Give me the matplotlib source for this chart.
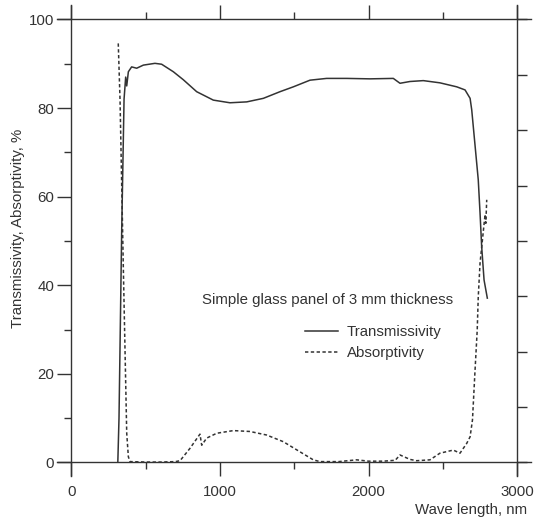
import matplotlib
matplotlib.use("Agg")
import matplotlib.pyplot as plt
from matplotlib.lines import Line2D
import numpy as np

plt.rcParams['font.family'] = ['Liberation Sans', 'DejaVu Sans']

# transmissivity of the glass panel, % (wave length in nm)
trans_wl = [312, 320, 338, 354, 365, 372, 383, 395, 405, 439, 484, 562, 607,
            686, 753, 843, 955, 1067, 1180, 1292, 1404, 1494, 1606, 1718, 1853,
            2010, 2167, 2212, 2279, 2369, 2481, 2594, 2650, 2684, 2695, 2739,
            2751, 2762, 2778, 2800]
trans_val = [0, 10, 52, 82, 87, 85, 88.2, 88.8, 89.3, 89.0, 89.7, 90.1, 89.9,
             88.2, 86.4, 83.7, 81.8, 81.2, 81.4, 82.2, 83.7, 84.8, 86.3, 86.7, 86.7,
             86.6, 86.7, 85.6, 86.0, 86.2, 85.7, 84.8, 84.1, 82.2, 79.6, 63.8,
             56.3, 48.7, 41.2, 37.1]

# absorptivity of the glass panel, %
abs_wl = [315, 327, 349, 372, 383, 394, 500, 600, 700, 731, 798, 865, 877, 910,
          978, 1090, 1202, 1314, 1426, 1539, 1628, 1673, 1800, 1920, 2000, 2100,
          2180, 2212, 2279, 2324, 2414, 2481, 2571, 2616, 2661, 2684, 2700, 2716,
          2732, 2739, 2751, 2774, 2785, 2790, 2796]
abs_val = [94.6, 81.8, 44.2, 6.6, 1.3, 0.2, 0.1, 0.1, 0.2, 0.4, 3.2, 6.4, 3.9, 5.5,
           6.6, 7.2, 7.0, 6.2, 4.7, 2.4, 0.6, 0.2, 0.2, 0.6, 0.3, 0.3,
           0.5, 1.7, 0.7, 0.4, 0.6, 2.1, 2.8, 2.1, 4.3, 5.8, 9.6, 20,
           29.9, 37.4, 45.0, 52.5, 56, 54, 59.3]

x_ticks = [0, 1000, 2000, 3000]
y_ticks = [0, 20, 40, 60, 80, 100]

ink = '#333333'

fig = plt.figure(figsize=(5.35, 5.21), dpi=100)
ax = fig.add_axes([0.1336, 0.1123, 0.8328, 0.8503])

ax.plot(trans_wl, trans_val, color=ink, lw=1.1, solid_joinstyle='round')
ax.plot(abs_wl, abs_val, color=ink, lw=1.1, dashes=(2.2, 1.6))

ax.set_xlim(0, 3000)
ax.set_ylim(0, 100)
ax.set_xticks(x_ticks)
ax.set_xticks(np.arange(500, 3000, 1000), minor=True)
ax.set_yticks(y_ticks)
ax.set_yticks(np.arange(10, 100, 20), minor=True)

ax.tick_params(which='both', direction='out', colors=ink, width=1.0,
               top=True, labelsize=10.8, labelcolor=ink)
ax.tick_params(which='major', length=10)
ax.tick_params(which='minor', length=5)
ax.tick_params(axis='x', pad=6)
ax.tick_params(axis='y', pad=2.5)

# right-hand scale with its own tick spacing, no labels
ax2 = ax.twinx()
ax2.set_ylim(0, 100)
ax2.set_yticks(np.arange(0, 100.1, 12.5))
ax2.tick_params(direction='out', length=7, width=1.0, colors=ink, labelright=False)

for a in (ax, ax2):
    for s in a.spines.values():
        s.set_visible(False)

# frame lines run past the corners
ex, ey = 0.0315, 0.0316
frame = [((-ex, 1 + ex), (0, 0)), ((-ex, 1 + ex), (1, 1)),
         ((0, 0), (-ey, 1 + ey)), ((1, 1), (-ey, 1 + ey))]
for xs, ys in frame:
    ax.add_line(Line2D(xs, ys, transform=ax.transAxes, color=ink, lw=1.0,
                       clip_on=False))

ax.set_ylabel('Transmissivity, Absorptivity, %', fontsize=10.8, color=ink)
ax.yaxis.set_label_coords(-0.104, 0.529)
fig.text(0.985, 0.021, 'Wave length, nm', ha='right', va='center',
         fontsize=10.8, color=ink)

ax.text(0.292, 0.367, 'Simple glass panel of 3 mm thickness', transform=ax.transAxes,
        ha='left', va='center', fontsize=10.8, color=ink)
handles = [Line2D([], [], color=ink, lw=1.1),
           Line2D([], [], color=ink, lw=1.1, dashes=(2.2, 1.6))]
ax.legend(handles, ['Transmissivity', 'Absorptivity'], loc='upper left',
          bbox_to_anchor=(0.524, 0.310), frameon=False, fontsize=10.8,
          handlelength=2.2, handletextpad=0.6, labelspacing=0.45,
          borderpad=0, borderaxespad=0, labelcolor=ink)

fig.savefig('out.png', dpi=100)
